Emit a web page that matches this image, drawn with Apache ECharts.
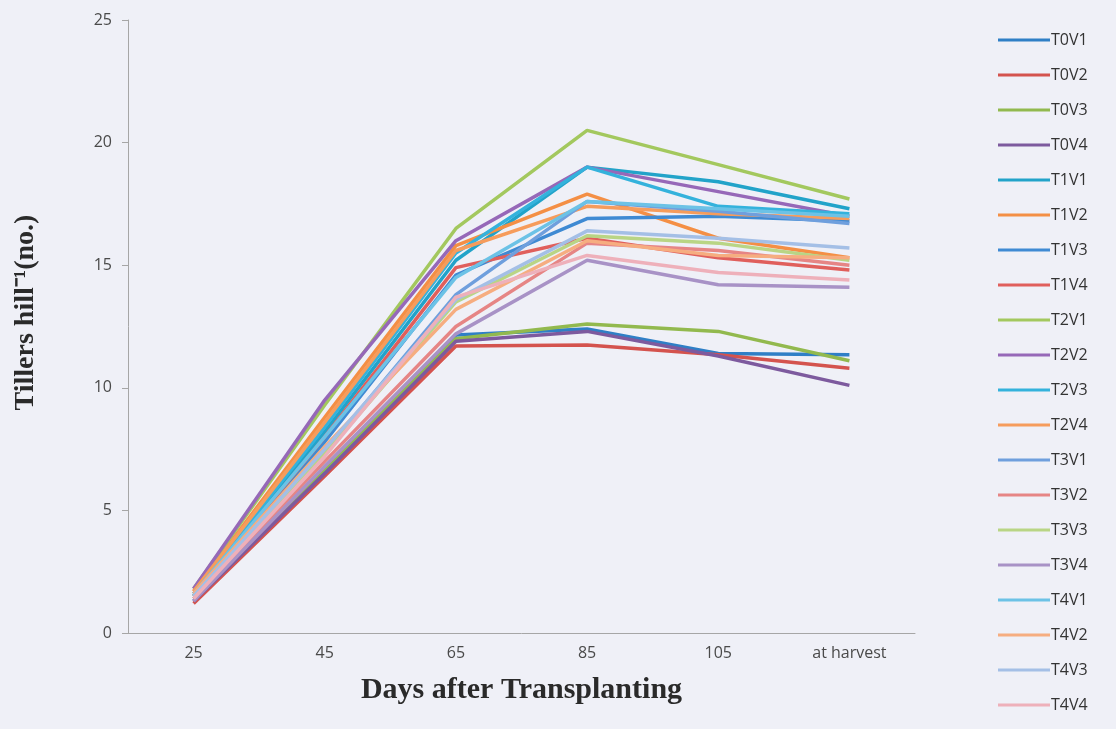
<!DOCTYPE html>
<html>
<head>
<meta charset="utf-8">
<script src="https://cdn.jsdelivr.net/npm/echarts@6/dist/echarts.min.js"></script>
<style>
  html, body { margin: 0; padding: 0; background: #eff0f7; }
  #chart { width: 1116px; height: 729px; }
</style>
</head>
<body>
<div id="chart"></div>
<script>
// x categories (days after transplanting)
const days = ["25", "45", "65", "85", "105", "at harvest"];

// tillers per hill
const T0V1 = [1.3, 6.6, 12.15, 12.4, 11.4, 11.35];
const T0V2 = [1.2, 6.4, 11.7, 11.75, 11.35, 10.8];
const T0V3 = [1.4, 6.7, 12.0, 12.6, 12.3, 11.1];
const T0V4 = [1.3, 6.5, 11.9, 12.3, 11.3, 10.1];
const T1V1 = [1.6, 8.2, 15.2, 19.0, 18.4, 17.3];
const T1V2 = [1.7, 8.8, 15.8, 17.9, 16.1, 15.3];
const T1V3 = [1.5, 7.8, 14.6, 16.9, 17.0, 16.8];
const T1V4 = [1.5, 8.0, 14.9, 16.1, 15.3, 14.8];
const T2V1 = [1.8, 9.3, 16.5, 20.5, 19.1, 17.7];
const T2V2 = [1.8, 9.5, 16.0, 19.0, 18.0, 17.0];
const T2V3 = [1.6, 8.4, 15.5, 19.0, 17.4, 17.1];
const T2V4 = [1.7, 8.6, 15.6, 17.4, 17.1, 16.9];
const T3V1 = [1.5, 7.4, 13.8, 17.6, 17.2, 16.7];
const T3V2 = [1.4, 7.0, 12.5, 15.9, 15.6, 15.0];
const T3V3 = [1.5, 7.3, 13.5, 16.2, 15.9, 15.2];
const T3V4 = [1.3, 6.8, 12.2, 15.2, 14.2, 14.1];
const T4V1 = [1.6, 8.0, 14.5, 17.6, 17.3, 17.0];
const T4V2 = [1.6, 7.6, 13.2, 16.0, 15.4, 15.3];
const T4V3 = [1.5, 7.5, 13.6, 16.4, 16.1, 15.7];
const T4V4 = [1.4, 7.2, 13.7, 15.4, 14.7, 14.4];

const seriesList = [
  ["T0V1", T0V1, "#2f7fc6"],
  ["T0V2", T0V2, "#d4534e"],
  ["T0V3", T0V3, "#92b94e"],
  ["T0V4", T0V4, "#7d5a9e"],
  ["T1V1", T1V1, "#22a3c9"],
  ["T1V2", T1V2, "#f48f45"],
  ["T1V3", T1V3, "#3f8ad3"],
  ["T1V4", T1V4, "#e05f5c"],
  ["T2V1", T2V1, "#a3c85e"],
  ["T2V2", T2V2, "#9668b8"],
  ["T2V3", T2V3, "#34b2dc"],
  ["T2V4", T2V4, "#f69c5c"],
  ["T3V1", T3V1, "#6f9fdd"],
  ["T3V2", T3V2, "#e68585"],
  ["T3V3", T3V3, "#b9d585"],
  ["T3V4", T3V4, "#a892c6"],
  ["T4V1", T4V1, "#6cc2e6"],
  ["T4V2", T4V2, "#f6ad80"],
  ["T4V3", T4V3, "#a4bfe6"],
  ["T4V4", T4V4, "#eeb0ba"],
];

const chart = echarts.init(document.getElementById("chart"));

chart.setOption({
  backgroundColor: "#eff0f7",
  animation: false,
  grid: {
    left: 128,
    right: 201,
    top: 20,
    bottom: 96,
  },
  legend: {
    orient: "vertical",
    left: 993,
    top: 27,
    icon: "rect",
    itemWidth: 52,
    itemHeight: 3,
    itemGap: 19,
    textStyle: {
      color: "#333",
      fontSize: 16,
      lineHeight: 16,
      fontFamily: "Open Sans",
      padding: [0, 0, 0, -4],
    },
    data: seriesList.map((s) => s[0]),
  },
  xAxis: {
    type: "category",
    data: days,
    name: "Days after Transplanting",
    nameLocation: "middle",
    nameGap: 42,
    nameTextStyle: {
      fontFamily: "Liberation Serif",
      fontWeight: "bold",
      fontSize: 30,
      color: "#2a2a2a",
    },
    axisLine: { lineStyle: { color: "#a6a6a6", width: 1 } },
    axisTick: { length: 6, lineStyle: { color: "#a6a6a6" } },
    axisLabel: {
      color: "#4a4a4a",
      fontSize: 16,
      fontFamily: "Open Sans",
      margin: 12,
    },
  },
  yAxis: {
    type: "value",
    min: 0,
    max: 25,
    interval: 5,
    name: "Tillers hill\u207B\u00B9(no.)",
    nameLocation: "middle",
    nameGap: 88,
    nameTextStyle: {
      fontFamily: "Liberation Serif",
      fontWeight: "bold",
      fontSize: 28,
      color: "#2a2a2a",
      padding: [0, 0, 0, 28],
    },
    axisLine: { show: true, lineStyle: { color: "#a6a6a6", width: 1 } },
    axisTick: { show: true, length: 6, lineStyle: { color: "#a6a6a6" } },
    splitLine: { show: false },
    axisLabel: {
      color: "#4a4a4a",
      fontSize: 16,
      fontFamily: "Open Sans",
      margin: 16,
    },
  },
  series: seriesList.map(([name, data, color]) => ({
    name: name,
    type: "line",
    data: data,
    symbol: "none",
    itemStyle: { color: color },
    lineStyle: { color: color, width: 3.5 },
  })),
});
</script>
</body>
</html>
